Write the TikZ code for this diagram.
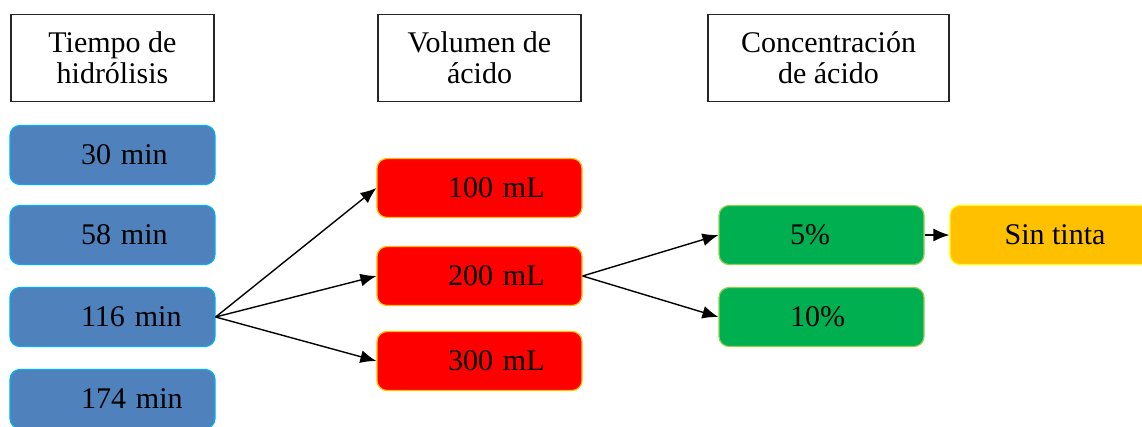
\documentclass[tikz,border=0pt]{standalone}
\usepackage{fontspec}
\setmainfont{Liberation Serif}
\usetikzlibrary{arrows.meta}
\definecolor{bluefill}{HTML}{4F81BD}
\definecolor{blueline}{HTML}{00B0F0}
\definecolor{redfill}{HTML}{FF0000}
\definecolor{redline}{HTML}{FFC000}
\definecolor{greenfill}{HTML}{00B050}
\definecolor{greenline}{HTML}{92D050}
\definecolor{yellowfill}{HTML}{FFC000}
\definecolor{yellowline}{HTML}{FFFF00}
\tikzset{
  header/.style={draw=black!85, line width=1.4pt, fill=white, minimum width=#1, minimum height=87pt,
    align=center, font=\fontsize{30}{31}\selectfont, inner sep=0pt},
  optbox/.style={rounded corners=10pt, line width=1.2pt, minimum height=59pt, inner sep=0pt,
    text width=205pt, align=left, font=\fontsize{30}{31}\selectfont},
  bluebox/.style={optbox, fill=bluefill, draw=blueline},
  redbox/.style={optbox, fill=redfill, draw=redline},
  greenbox/.style={optbox, fill=greenfill, draw=greenline},
  yellowbox/.style={rounded corners=10pt, line width=1.2pt, minimum height=59pt, inner sep=0pt,
    minimum width=205pt, fill=yellowfill, draw=yellowline, font=\fontsize{30}{31}\selectfont},
  arr/.style={-{Latex[length=16pt,width=13pt]}, line width=1.4pt, black}
}
\newcommand{\pad}{\hspace*{71pt}}
\begin{document}
\begin{tikzpicture}[x=1pt,y=-1pt]
\useasboundingbox (0,0) rectangle (1142,426);
% headers
\node[header=203pt] (h1) at (112.5,58) {Tiempo de\\hidrólisis};
\node[header=203pt] (h2) at (479.5,58) {Volumen de\\ácido};
\node[header=241pt] (h3) at (828.5,58) {Concentración\\de ácido};
% blue
\node[bluebox] (b1) at (112.5,155) {\pad 30 min};
\node[bluebox] (b2) at (112.5,235) {\pad 58 min};
\node[bluebox] (b3) at (112.5,317) {\pad 116 min};
\node[bluebox] (b4) at (112.5,399) {\pad 174 min};
% red
\node[redbox] (r1) at (479.5,188) {\pad 100 mL};
\node[redbox] (r2) at (479.5,276) {\pad 200 mL};
\node[redbox] (r3) at (479.5,361) {\pad 300 mL};
% green
\node[greenbox] (g1) at (821.5,235) {\pad 5\%};
\node[greenbox] (g2) at (821.5,317) {\pad 10\%};
% yellow
\node[yellowbox, minimum width=210pt] (y1) at (1055,235) {Sin tinta};
% arrows
\draw[arr] (b3.east) -- (r1.west);
\draw[arr] (b3.east) -- (r2.west);
\draw[arr] (b3.east) -- (r3.west);
\draw[arr] (r2.east) -- (g1.west);
\draw[arr] (r2.east) -- (g2.west);
\draw[arr] (g1.east) -- (y1.west);
\end{tikzpicture}
\end{document}
